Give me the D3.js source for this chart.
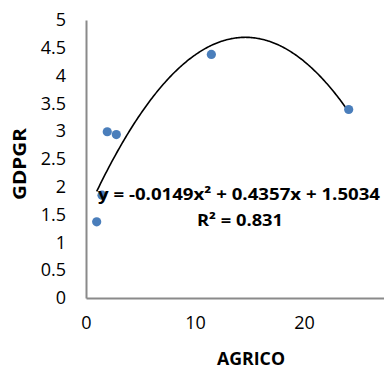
<!DOCTYPE html>
<html><head><meta charset="utf-8">
<script src="https://cdn.jsdelivr.net/npm/d3@7"></script>
<style>html,body{margin:0;padding:0;background:#fff;overflow:hidden}</style>
</head><body>
<svg id="c" width="384" height="370"></svg>
<script>
const agrico = [0.98, 1.47, 1.95, 2.78, 11.5, 24.1];
const gdpgr = [1.37, 1.85, 2.99, 2.94, 4.38, 3.39];
const trendCoef = [-0.0149, 0.4357, 1.5034];
const xTicks = [0, 10, 20];
const yTicks = [0, 0.5, 1, 1.5, 2, 2.5, 3, 3.5, 4, 4.5, 5];
const eqText = "y = -0.0149x² + 0.4357x + 1.5034";
const r2Text = "R² = 0.831";

const svg = d3.select("#c");
const x = d3.scaleLinear().domain([0, 30]).range([86, 413]);
const y = d3.scaleLinear().domain([0, 5]).range([298, 20]);
const font = "'Open Sans', sans-serif";

// axes
const xAxis = svg.append("g").attr("transform", "translate(0,298)")
  .call(d3.axisBottom(x).tickValues(xTicks).tickSize(0).tickPadding(18).tickFormat(d3.format("d")));
xAxis.select(".domain").attr("stroke", "#8a8a8a").attr("stroke-width", 2);
xAxis.selectAll("text").attr("font-family", font).attr("font-size", 18).attr("fill", "#000");

const yAxis = svg.append("g").attr("transform", "translate(86,0)")
  .call(d3.axisLeft(y).tickValues(yTicks).tickSize(0).tickPadding(20).tickFormat(d => String(d)));
yAxis.select(".domain").attr("stroke", "#8a8a8a").attr("stroke-width", 2);
yAxis.selectAll("text").attr("font-family", font).attr("font-size", 18).attr("fill", "#000");

// trendline
const xs = d3.range(0, 201).map(i => d3.min(agrico) + (d3.max(agrico) - d3.min(agrico)) * i / 200);
const f = v => trendCoef[0] * v * v + trendCoef[1] * v + trendCoef[2];
svg.append("path")
  .attr("d", d3.line().x(v => x(v)).y(v => y(f(v)))(xs))
  .attr("fill", "none").attr("stroke", "#000").attr("stroke-width", 1.6);

// points
svg.append("g").selectAll("circle").data(agrico).join("circle")
  .attr("cx", d => x(d)).attr("cy", (d, i) => y(gdpgr[i])).attr("r", 4.6)
  .attr("fill", "#4a7ebb");

// equation labels
svg.append("text").attr("x", 98).attr("y", 200).attr("font-family", font)
  .attr("font-weight", "bold").attr("font-size", 16).attr("fill", "#000")
  .attr("textLength", 282).attr("lengthAdjust", "spacingAndGlyphs").text(eqText);
svg.append("text").attr("x", 197).attr("y", 226).attr("font-family", font)
  .attr("font-weight", "bold").attr("font-size", 16).attr("fill", "#000")
  .attr("textLength", 86).attr("lengthAdjust", "spacingAndGlyphs").text(r2Text);

// axis titles
svg.append("text").attr("x", 251).attr("y", 365).attr("text-anchor", "middle")
  .attr("font-family", font).attr("font-weight", "bold").attr("font-size", 18)
  .attr("textLength", 68).attr("lengthAdjust", "spacingAndGlyphs").text("AGRICO");
svg.append("text").attr("transform", "translate(26,164) rotate(-90)").attr("text-anchor", "middle")
  .attr("font-family", font).attr("font-weight", "bold").attr("font-size", 18)
  .attr("textLength", 72).attr("lengthAdjust", "spacingAndGlyphs").text("GDPGR");
</script>
</body></html>
